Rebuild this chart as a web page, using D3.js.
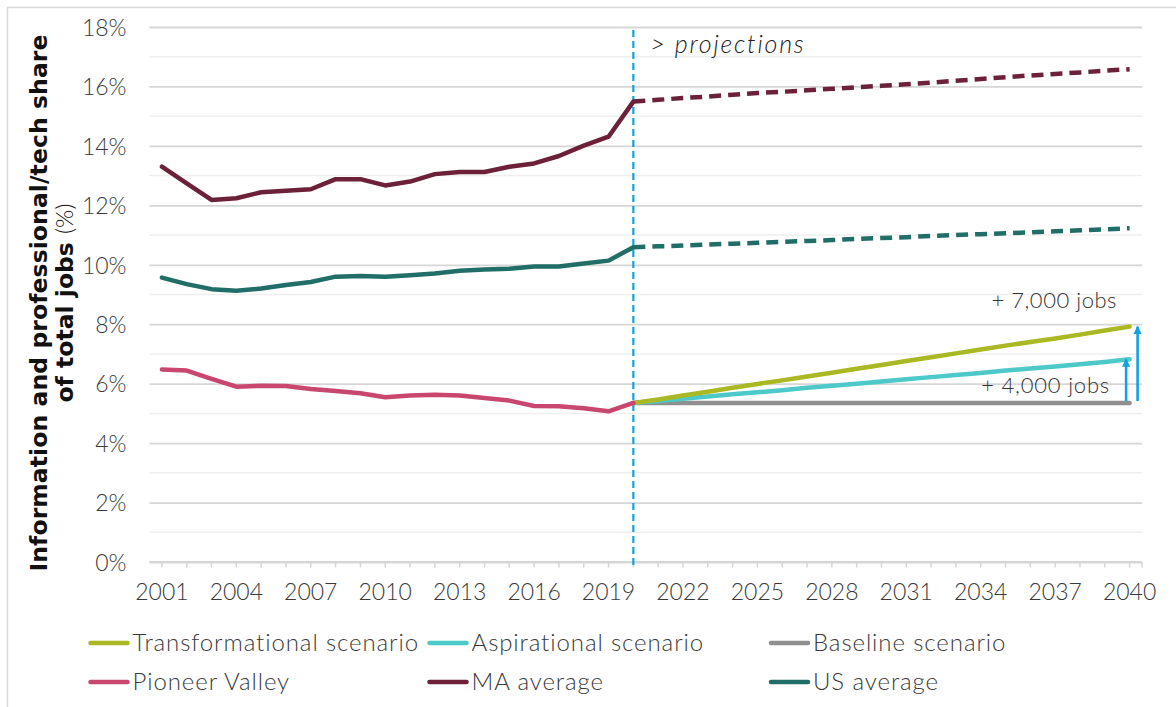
<!DOCTYPE html>
<html>
<head>
<meta charset="utf-8">
<script src="https://cdn.jsdelivr.net/npm/d3@7"></script>
<style>
  html, body { margin: 0; padding: 0; background: #ffffff; }
  svg { display: block; font-family: Lato, "Open Sans", sans-serif; }
</style>
</head>
<body>
<svg id="chart" width="1176" height="707"></svg>
<script>
// ---- Data: share of total jobs in information & professional/tech (%) ----
const years = d3.range(2001, 2041);
const histYears = d3.range(2001, 2021);
const projYears = d3.range(2020, 2041);
const tickLabelYears = d3.range(2001, 2041, 3);
const yTicks = [0, 2, 4, 6, 8, 10, 12, 14, 16, 18];

const pioneerValley = [6.48, 6.44, 6.16, 5.90, 5.93, 5.92, 5.82, 5.75, 5.68, 5.54,
                       5.60, 5.63, 5.60, 5.52, 5.43, 5.25, 5.24, 5.17, 5.07, 5.35];
const maHist = [13.30, 12.74, 12.18, 12.24, 12.44, 12.49, 12.54, 12.88, 12.88, 12.67,
                12.80, 13.05, 13.12, 13.12, 13.30, 13.41, 13.66, 14.01, 14.31, 15.49];
const usHist = [9.57, 9.35, 9.18, 9.13, 9.20, 9.32, 9.42, 9.60, 9.62, 9.60,
                9.65, 9.71, 9.80, 9.84, 9.87, 9.94, 9.94, 10.04, 10.14, 10.59];
const maProj = [15.49, 15.55, 15.61, 15.66, 15.72, 15.78, 15.82, 15.87, 15.92, 15.97,
                16.02, 16.07, 16.13, 16.19, 16.25, 16.31, 16.37, 16.42, 16.47, 16.53, 16.58];
const usProj = [10.59, 10.62, 10.65, 10.68, 10.71, 10.74, 10.77, 10.80, 10.83, 10.87,
                10.90, 10.93, 10.97, 11.00, 11.03, 11.06, 11.09, 11.13, 11.16, 11.19, 11.23];
const transformational = [5.35, 5.47, 5.60, 5.73, 5.86, 5.99, 6.11, 6.24, 6.37, 6.50,
                          6.63, 6.76, 6.89, 7.02, 7.15, 7.28, 7.40, 7.52, 7.65, 7.79, 7.92];
const aspirational = [5.35, 5.42, 5.49, 5.57, 5.64, 5.71, 5.78, 5.86, 5.93, 6.00,
                      6.07, 6.15, 6.22, 6.29, 6.36, 6.44, 6.51, 6.58, 6.65, 6.73, 6.82];
const baseline = [5.35, 5.35, 5.35, 5.35, 5.35, 5.35, 5.35, 5.35, 5.35, 5.35,
                  5.35, 5.35, 5.35, 5.35, 5.35, 5.35, 5.35, 5.35, 5.35, 5.35, 5.35];

const projectionStart = 2020;
const annotations = [
  { text: "+ 7,000 jobs", value: transformational[transformational.length - 1] },
  { text: "+ 4,000 jobs", value: aspirational[aspirational.length - 1] }
];

const colors = {
  transformational: "#a9b823",
  aspirational: "#4cc9c8",
  baseline: "#8f8f8f",
  pioneer: "#c9476f",
  ma: "#6c2139",
  us: "#216d67",
  marker: "#12a1e3"
};

const legendItems = [
  { label: "Transformational scenario", color: colors.transformational },
  { label: "Aspirational scenario", color: colors.aspirational },
  { label: "Baseline scenario", color: colors.baseline },
  { label: "Pioneer Valley", color: colors.pioneer },
  { label: "MA average", color: colors.ma },
  { label: "US average", color: colors.us }
];

// ---- Layout ----
const svg = d3.select("#chart");
const plot = { left: 149.5, right: 1142, top: 27, bottom: 562 };
const textColor = "#3a3a3a";

const x = d3.scaleBand().domain(years).range([plot.left, plot.right]).padding(0);
const cx = yr => x(yr) + x.bandwidth() / 2;
const y = d3.scaleLinear().domain([0, 18]).range([plot.bottom, plot.top]);

// spread a text element's letters so it spans a given width
function fitWidth(node, target) {
  const n = node.textContent.length;
  const w = node.getComputedTextLength();
  d3.select(node).attr("letter-spacing", ((target - w) / Math.max(1, n - 1)).toFixed(2));
}

// outer frame
svg.append("path")
  .attr("d", "M7.5,720 V7.5 H1190")
  .attr("fill", "none").attr("stroke", "#d9d9d9").attr("stroke-width", 1.5);

// minor gridlines (odd percentages)
svg.append("g").selectAll("line")
  .data(d3.range(1, 18, 2)).join("line")
  .attr("x1", plot.left).attr("x2", plot.right)
  .attr("y1", d => y(d)).attr("y2", d => y(d))
  .attr("stroke", "#efefef").attr("stroke-width", 1.5);

// major gridlines + y tick labels
const yAxis = d3.axisLeft(y).tickValues(yTicks)
  .tickSize(-(plot.right - plot.left)).tickPadding(23)
  .tickFormat(d => d + "%");
const gy = svg.append("g").attr("transform", `translate(${plot.left},0)`).call(yAxis);
gy.select(".domain").remove();
gy.selectAll(".tick line").attr("stroke", "#d6d6d6").attr("stroke-width", 1.8);
gy.selectAll(".tick text")
  .attr("fill", textColor).attr("font-size", 23).attr("font-weight", 300)
  .attr("font-family", "Lato, sans-serif").attr("dy", "0.36em");

// x axis
const gx = svg.append("g").attr("transform", `translate(0,${plot.bottom})`);
gx.append("line").attr("x1", plot.left).attr("x2", plot.right)
  .attr("stroke", "#d6d6d6").attr("stroke-width", 1.8);
gx.selectAll("line.tk").data(years).join("line").attr("class", "tk")
  .attr("x1", d => cx(d)).attr("x2", d => cx(d)).attr("y1", 0).attr("y2", 5.5)
  .attr("stroke", "#d6d6d6").attr("stroke-width", 1.5);
gx.append("line").attr("x1", plot.right).attr("x2", plot.right).attr("y1", 0).attr("y2", 5.5)
  .attr("stroke", "#d6d6d6").attr("stroke-width", 1.5);
gx.selectAll("text").data(tickLabelYears).join("text")
  .attr("x", d => cx(d)).attr("y", 38)
  .attr("text-anchor", "middle").attr("fill", textColor)
  .attr("font-size", 23).attr("font-weight", 300)
  .text(d => d);

// y axis title
const title = svg.append("text")
  .attr("transform", `translate(47,${303}) rotate(-90)`)
  .attr("text-anchor", "middle").attr("fill", "#111")
  .attr("font-family", "'DejaVu Sans', sans-serif").attr("font-weight", 700).attr("font-size", 23.5);
const t1 = title.append("tspan").attr("x", 0).attr("y", 0).text("Information and professional/tech share");
const t2 = title.append("tspan").attr("x", 0).attr("y", 26);
t2.append("tspan").text("of total jobs ");
t2.append("tspan").attr("font-weight", 300).attr("font-family", "Lato, sans-serif").text("(%)");
fitWidth(t1.node(), 537);
fitWidth(t2.node(), 199);

// projection divider
svg.append("line")
  .attr("x1", cx(projectionStart)).attr("x2", cx(projectionStart))
  .attr("y1", 30).attr("y2", plot.bottom + 6)
  .attr("stroke", colors.marker).attr("stroke-width", 2.2)
  .attr("stroke-dasharray", "7,4");

const proj = svg.append("text")
  .attr("x", cx(projectionStart) + 17).attr("y", 53)
  .attr("fill", "#222").attr("font-size", 25).attr("font-weight", 300)
  .attr("font-style", "italic")
  .text("> projections");
fitWidth(proj.node(), 153);

// lines
const line = d3.line().x(d => cx(d[0])).y(d => y(d[1]));
function drawSeries(yrs, vals, color, dashed) {
  svg.append("path")
    .datum(yrs.map((yr, i) => [yr, vals[i]]))
    .attr("d", line)
    .attr("fill", "none").attr("stroke", color)
    .attr("stroke-width", 4.5)
    .attr("stroke-linejoin", "round")
    .attr("stroke-linecap", dashed ? "butt" : "round")
    .attr("stroke-dasharray", dashed ? "12,7" : null);
}
drawSeries(histYears, maHist, colors.ma, false);
drawSeries(projYears, maProj, colors.ma, true);
drawSeries(histYears, usHist, colors.us, false);
drawSeries(projYears, usProj, colors.us, true);
drawSeries(projYears, baseline, colors.baseline, false);
drawSeries(projYears, aspirational, colors.aspirational, false);
drawSeries(projYears, transformational, colors.transformational, false);
drawSeries(histYears, pioneerValley, colors.pioneer, false);

// gain arrows from baseline to scenario end values
const endYear = years[years.length - 1];
const baseEnd = baseline[baseline.length - 1];
const defs = svg.append("defs");
defs.append("marker").attr("id", "arrowhead")
  .attr("viewBox", "0 0 10 10").attr("refX", 9).attr("refY", 5)
  .attr("markerWidth", 3.2).attr("markerHeight", 3.4)
  .attr("markerUnits", "strokeWidth").attr("orient", "auto")
  .append("path").attr("d", "M0,0 L10,5 L0,10 Z").attr("fill", colors.marker);

const arrowOffsets = [8, -3.5];
annotations.forEach((a, i) => {
  const ax = cx(endYear) + arrowOffsets[i];
  svg.append("line")
    .attr("x1", ax).attr("x2", ax)
    .attr("y1", y(baseEnd) - 2).attr("y2", y(a.value))
    .attr("stroke", colors.marker).attr("stroke-width", 2.6)
    .attr("marker-end", "url(#arrowhead)");
});

const a1 = svg.append("text")
  .attr("x", 1117).attr("y", y(annotations[0].value) - 19)
  .attr("text-anchor", "end").attr("fill", "#333")
  .attr("font-size", 22).attr("font-weight", 300)
  .text(annotations[0].text);
fitWidth(a1.node(), 125);
const a2 = svg.append("text")
  .attr("x", 1110).attr("y", y(baseEnd) - 10)
  .attr("text-anchor", "end").attr("fill", "#333")
  .attr("font-size", 22).attr("font-weight", 300)
  .text(annotations[1].text);
fitWidth(a2.node(), 128);

// legend
const legendCols = [88.5, 427.5, 769];
const legendRows = [643, 682];
const lg = svg.append("g");
legendItems.forEach((item, i) => {
  const lx = legendCols[i % 3], ly = legendRows[Math.floor(i / 3)];
  lg.append("line").attr("x1", lx + 2).attr("x2", lx + 39)
    .attr("y1", ly).attr("y2", ly)
    .attr("stroke", item.color).attr("stroke-width", 4.5).attr("stroke-linecap", "round");
  lg.append("text").attr("x", lx + 44).attr("y", ly).attr("dy", "0.35em")
    .attr("fill", textColor).attr("font-size", 24).attr("font-weight", 300)
    .attr("letter-spacing", 0.9)
    .text(item.label);
});
</script>
</body>
</html>
